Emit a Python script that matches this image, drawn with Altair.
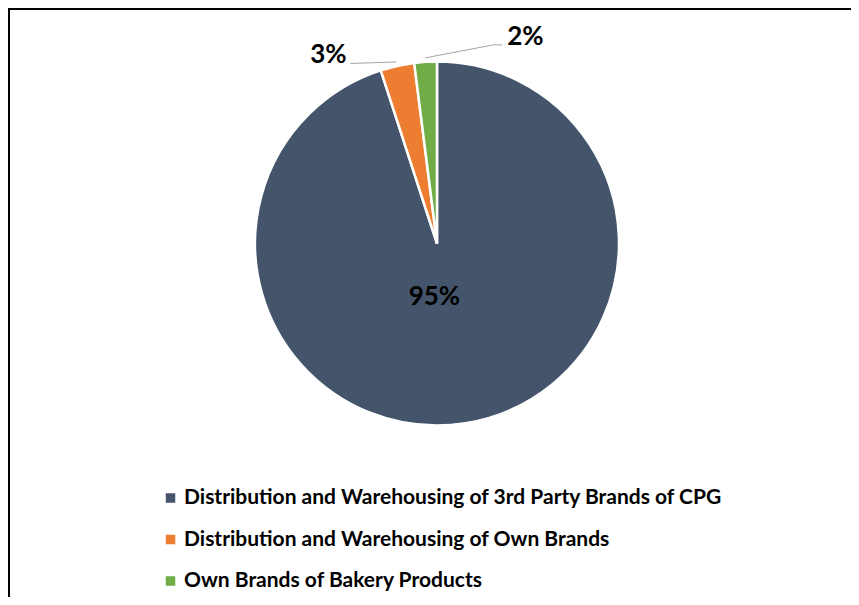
import altair as alt
import pandas as pd

categories = [
    "Distribution and Warehousing of 3rd Party Brands of CPG",
    "Distribution and Warehousing of Own Brands",
    "Own Brands of Bakery Products",
]
shares = [95, 3, 2]
labels = ["95%", "3%", "2%"]
colors = ["#44546A", "#ED7D31", "#70AD47"]
order_idx = [0, 1, 2]

df = pd.DataFrame({"category": categories, "share": shares, "label": labels, "ord": order_idx})

W, H = 843, 589
CX, CY = 429, 235.5
R = 182
RL = 186
FONT = "Lato"

theta = alt.Theta("share:Q", stack=True)
order = alt.Order("ord:Q")

color = alt.Color(
    "category:N",
    scale=alt.Scale(domain=categories, range=colors),
    legend=alt.Legend(
        title=None, orient="none", legendX=152, legendY=479.5,
        symbolType="square", symbolSize=90, symbolStrokeWidth=0,
        labelFont=FONT, labelFontSize=21, labelFontWeight="bold",
        labelColor="black", labelLimit=0, rowPadding=19.5, labelOffset=3,
        padding=0,
    ),
)

base = alt.Chart(df)

pie = base.mark_arc(radius=R, stroke="white", strokeWidth=2.5).encode(
    theta=theta, order=order, color=color, x=alt.value(CX), y=alt.value(CY)
)


def slice_text(idx, radius, dx, dy, size):
    return base.transform_calculate(
        t=f"datum.ord == {idx} ? datum.label : ''"
    ).mark_text(
        radius=radius, dx=dx, dy=dy, font=FONT, fontWeight="bold",
        fontSize=size, color="black", align="center", baseline="middle",
    ).encode(theta=theta, order=order, text="t:N", x=alt.value(CX), y=alt.value(CY))


t95 = slice_text(0, 54, -11, 0, 26)
t3 = slice_text(1, RL, -68, -7, 26)
t2 = slice_text(2, RL, 100, -21, 26)

lead = (
    base.transform_joinaggregate(total="sum(share)")
    .transform_window(cum="sum(share)", sort=[alt.SortField("ord")])
    .transform_calculate(mid="(datum.cum - datum.share / 2) / datum.total * 2 * PI")
    .transform_calculate(
        sx=f"{CX} + {RL} * sin(datum.mid)", sy=f"{CY} - {RL} * cos(datum.mid)"
    )
)

GRAY = "#A6A6A6"
lead3 = lead.transform_filter("datum.ord == 1").transform_calculate(
    ex="datum.sx - 46", ey="datum.sy + 1.5"
).mark_rule(color=GRAY, strokeWidth=1).encode(
    x=alt.X("sx:Q", scale=None, axis=None), y=alt.Y("sy:Q", scale=None, axis=None),
    x2="ex:Q", y2="ey:Q",
)
lead2a = lead.transform_filter("datum.ord == 2").transform_calculate(
    ex="datum.sx + 68", ey="datum.sy - 13"
).mark_rule(color=GRAY, strokeWidth=1).encode(
    x=alt.X("sx:Q", scale=None, axis=None), y=alt.Y("sy:Q", scale=None, axis=None),
    x2="ex:Q", y2="ey:Q",
)
lead2b = lead.transform_filter("datum.ord == 2").transform_calculate(
    kx="datum.sx + 68", ex="datum.sx + 77", ky="datum.sy - 13"
).mark_rule(color=GRAY, strokeWidth=1).encode(
    x=alt.X("kx:Q", scale=None, axis=None), y=alt.Y("ky:Q", scale=None, axis=None),
    x2="ex:Q", y2="ky:Q",
)

frame_top = base.transform_filter("datum.ord == 0").mark_rule(color="black", strokeWidth=2).encode(
    x=alt.value(0), x2=alt.value(W), y=alt.value(1)
)
frame_left = base.transform_filter("datum.ord == 0").mark_rule(color="black", strokeWidth=2).encode(
    x=alt.value(1), y=alt.value(0), y2=alt.value(H)
)

chart = alt.layer(pie, t95, t3, t2, lead3, lead2a, lead2b, frame_top, frame_left).properties(
    width=W, height=H, autosize=alt.AutoSizeParams(type="none"), padding=0
).configure_view(stroke=None).configure(background="white")

chart.save("out.html", embed_options={"renderer": "svg", "actions": False})
